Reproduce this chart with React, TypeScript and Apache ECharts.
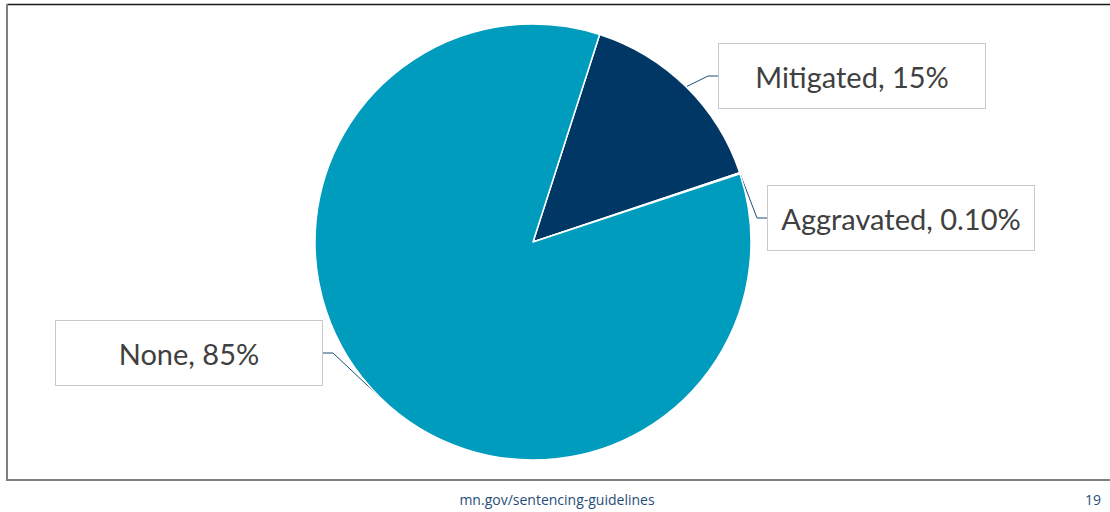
import React, { useEffect, useRef } from "react";
import * as echarts from "echarts";

const categories = ["Mitigated", "Aggravated", "None"];
const values = [14.9, 0.1, 85.0];
const percentLabels = ["15%", "0.10%", "85%"];
const colors = ["#003764", "#5b9bd5", "#009cbe"];
const footerText = "mn.gov/sentencing-guidelines";
const pageNumber = "19";

const labelCenters = [
  [852, 76],
  [901, 218],
  [189, 353],
];

export default function App() {
  const ref = useRef<HTMLDivElement>(null);
  useEffect(() => {
    document.body.style.margin = "0";
    const chart = echarts.init(ref.current!, undefined, { renderer: "svg" });
    chart.setOption({
      animation: false,
      backgroundColor: "#ffffff",
      graphic: [
        { type: "line", shape: { x1: 7, y1: 4.5, x2: 1110, y2: 4.5 }, style: { stroke: "#1a1a1a", lineWidth: 1.5 } },
        { type: "line", shape: { x1: 7, y1: 4, x2: 7, y2: 481 }, style: { stroke: "#808080", lineWidth: 2 } },
        { type: "line", shape: { x1: 6, y1: 480, x2: 1110, y2: 480 }, style: { stroke: "#808080", lineWidth: 2 } },
        {
          type: "text",
          x: 557,
          y: 499,
          style: {
            text: footerText,
            font: "14px 'Open Sans', sans-serif",
            fill: "#1f4e79",
            align: "center",
            verticalAlign: "middle",
          },
        },
        {
          type: "text",
          x: 1093,
          y: 499,
          style: {
            text: pageNumber,
            font: "14px 'Open Sans', sans-serif",
            fill: "#1f4e79",
            align: "center",
            verticalAlign: "middle",
          },
        },
      ],
      series: [
        {
          type: "pie",
          center: [533, 242],
          radius: 218,
          startAngle: 72.2,
          clockwise: true,
          avoidLabelOverlap: false,
          itemStyle: { borderColor: "#ffffff", borderWidth: 1.5 },
          data: categories.map((c, i) => ({
            name: c,
            value: values[i],
            itemStyle: { color: colors[i] },
          })),
          label: {
            show: true,
            formatter: (p: any) => `${p.name}, ${percentLabels[p.dataIndex]}`,
            fontFamily: "Lato, 'Open Sans', sans-serif",
            fontSize: 29,
            color: "#404040",
            backgroundColor: "#ffffff",
            borderColor: "#c9c9c9",
            borderWidth: 1,
            width: 242,
            align: "center",
            lineHeight: 38,
            padding: [13, 12],
          },
          labelLine: {
            show: true,
            length: 10,
            length2: 10,
            lineStyle: { color: "#1f4e79", width: 1 },
          },
          labelLayout: (params: any) => ({
            x: labelCenters[params.dataIndex][0],
            y: labelCenters[params.dataIndex][1],
            align: "center",
            verticalAlign: "middle",
          }),
        },
      ],
    });
    return () => chart.dispose();
  }, []);
  return <div ref={ref} style={{ width: 1110, height: 512 }} />;
}
